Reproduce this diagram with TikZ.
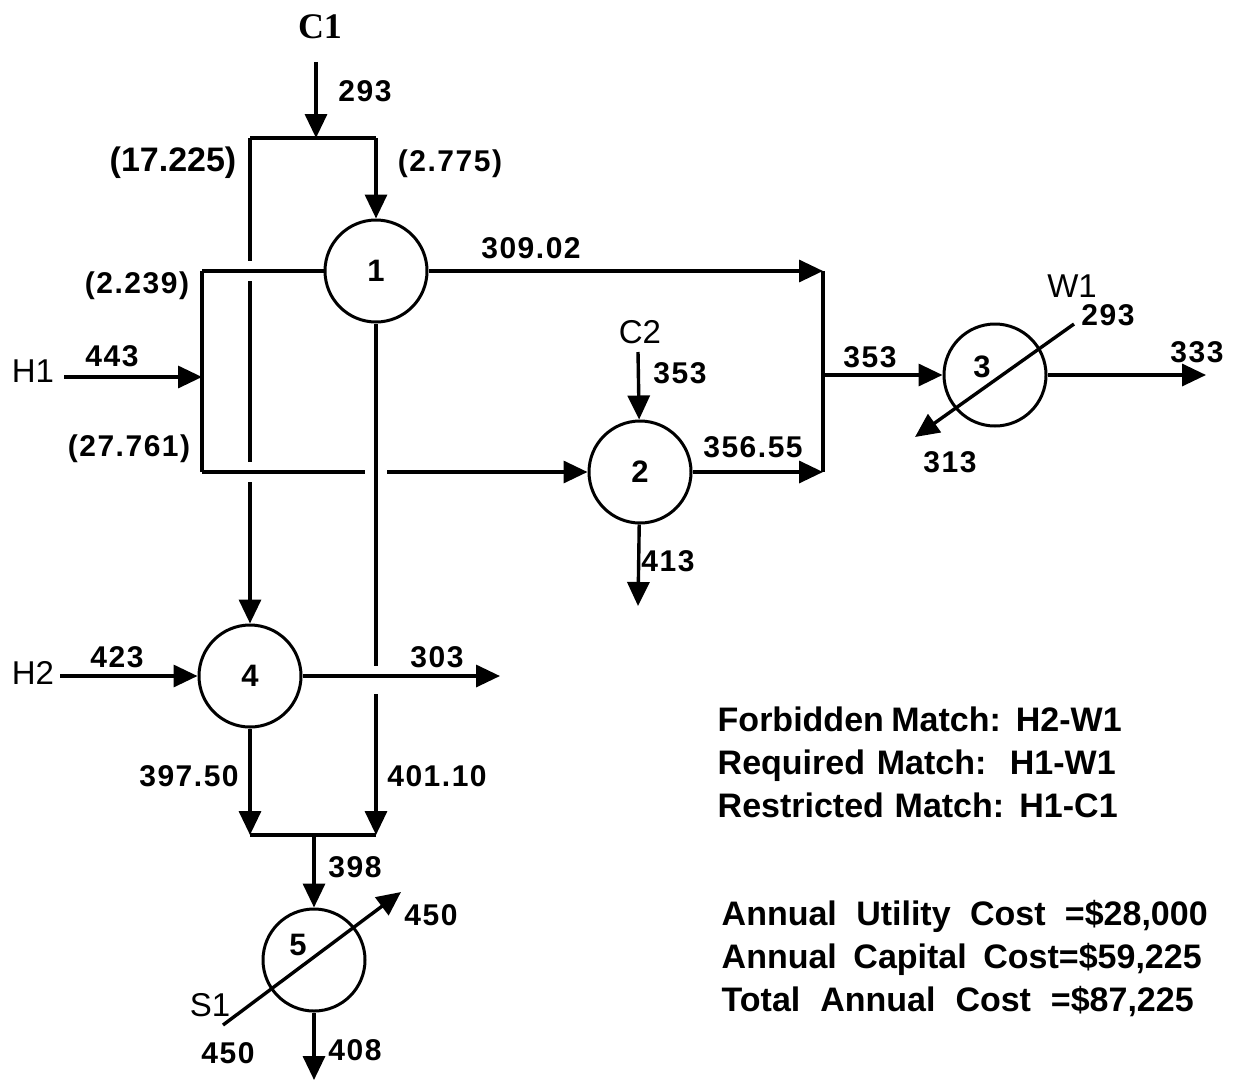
\documentclass[tikz,border=0pt]{standalone}
\usepackage{fontspec}
\setmainfont{Liberation Sans}
\newfontfamily\timesfont{Liberation Serif}
\newfontfamily\numfont{Liberation Sans}[LetterSpace=5]
\usetikzlibrary{arrows.meta, calc}

\begin{document}
\begin{tikzpicture}[x = 0.5pt, y = -0.5pt, line width = 1.7pt,
		hx/.style = {circle, draw, line width = 1.5pt, minimum size = 51pt, inner sep = 0pt,
			font = \bfseries\fontsize{15.5}{16}\selectfont},
		flow/.style = {-{Triangle[length = 12pt, width = 11pt]}},
		num/.style = {inner sep = 0pt, font = \numfont\bfseries\fontsize{15}{15}\selectfont},
		frac/.style = {inner sep = 0pt, font = \bfseries\fontsize{17}{17}\selectfont},
		strm/.style = {inner sep = 0pt, font = \fontsize{16.5}{17}\selectfont},
		spec/.style = {inner sep = 0pt, anchor = west, text height = 12pt, text depth = 3pt,
			font = \bfseries\fontsize{17}{19}\selectfont}]
	\useasboundingbox (0, 0) rectangle (1234, 1081);

	% exchangers
	\node[hx] (n1) at (376, 271){1};
	\node[hx] (n2) at (640, 472){2};
	\node[hx] (n3) at (995, 375){};
	\node[hx] (n4) at (250, 676){4};
	\node[hx] (n5) at (314, 960){};
	\node[hx, draw = none, minimum size = 0pt] (k3) at (982, 367){3};
	\node[hx, draw = none, minimum size = 0pt] (k5) at (298, 945){5};

	% split and mixing points
	\coordinate (c1in) at (316, 62);
	\coordinate (c1s) at (316, 138);
	\coordinate (c1l) at (250, 138);
	\coordinate (c1r) at (376, 138);
	\coordinate (h1in) at (64, 377);
	\coordinate (h1m) at (202, 377);
	\coordinate (h1t) at (202, 271);
	\coordinate (h1b) at (202, 472);
	\coordinate (j1) at (823, 271);
	\coordinate (j2) at (823, 472);
	\coordinate (j3) at (823, 375);
	\coordinate (h1out) at (1206, 375);
	\coordinate (c2in) at (638, 352);
	\coordinate (c2out) at (638, 606);
	\coordinate (w1in) at (1074, 324);
	\coordinate (w1out) at (915, 437);
	\coordinate (h2in) at (60, 676);
	\coordinate (h2out) at (500, 676);
	\coordinate (m1) at (250, 835);
	\coordinate (m2) at (376, 835);
	\coordinate (m3) at (314, 835);
	\coordinate (s1in) at (223, 1025);
	\coordinate (s1out) at (401, 892);
	\coordinate (c1out) at (314, 1080);
	% crossings
	\coordinate (x1) at (250, 271);
	\coordinate (x2) at (250, 472);
	\coordinate (x3) at (376, 472);
	\coordinate (x4) at (376, 676);

	% C1
	\draw[flow] (c1in) -- (c1s);
	\draw (c1l) -- (c1r);
	\draw[flow] (c1r) -- (n1);
	\draw (c1l) -- ($(x1)+(0, -10)$) ($(x1)+(0, 10)$) -- ($(x2)+(0, -10)$);
	\draw[flow] ($(x2)+(0, 10)$) -- (n4);
	\draw (n1) -- ($(x4)+(0, -10)$);
	\draw[flow] ($(x4)+(0, 18)$) -- (m2);
	\draw[flow] (n4) -- (m1);
	\draw (m1) -- (m2);
	\draw[flow] (m3) -- (n5);
	\draw[flow] (n5) -- (c1out);

	% H1
	\draw[flow] (h1in) -- (h1m);
	\draw (h1t) -- (h1b);
	\draw (h1t) -- (n1);
	\draw (h1b) -- ($(x3)+(-11, 0)$);
	\draw[flow] ($(x3)+(11, 0)$) -- (n2);
	\draw[flow] (n1) -- (j1);
	\draw[flow] (n2) -- (j2);
	\draw (j1) -- (j2);
	\draw[flow] (j3) -- (n3);
	\draw[flow] (n3) -- (h1out);

	% C2, H2, utilities
	\draw[flow] (c2in) -- (n2);
	\draw[flow] (n2) -- (c2out);
	\draw[flow] (h2in) -- (n4);
	\draw[flow] (n4) -- (h2out);
	\draw[flow] (w1in) -- (w1out);
	\draw[flow] (s1in) -- (s1out);

	% stream names
	\node[inner sep = 0pt, font = \timesfont\bfseries\fontsize{18}{18}\selectfont] (lc1) at (320, 27){C1};
	\node[strm] (lh1) at (33, 371){H1};
	\node[strm] (lh2) at (33, 673){H2};
	\node[strm] (lc2) at (640, 332){C2};
	\node[strm] (lw1) at (1072, 286){W1};
	\node[strm] (ls1) at (210, 1005){S1};

	% split fractions
	\node[frac] (f1) at (173, 163){(17.225)};
	\node[num] (f2) at (450, 164){(2.775)};
	\node[num] (f3) at (137, 286){(2.239)};
	\node[num] (f4) at (129, 449){(27.761)};

	% temperatures
	\node[num] (t1) at (365, 91){293};
	\node[num] (t2) at (112, 356){443};
	\node[num] (t3) at (531, 248){309.02};
	\node[num] (t4) at (680, 373){353};
	\node[num] (t5) at (753, 447){356.55};
	\node[num] (t6) at (668, 561){413};
	\node[num] (t7) at (870, 357){353};
	\node[num] (t8) at (1108, 315){293};
	\node[num] (t9) at (950, 462){313};
	\node[num] (t10) at (1197, 352){333};
	\node[num] (t11) at (117, 657){423};
	\node[num] (t12) at (437, 657){303};
	\node[num] (t13) at (189, 776){397.50};
	\node[num] (t14) at (437, 776){401.10};
	\node[num] (t15) at (355, 867){398};
	\node[num] (t16) at (431, 915){450};
	\node[num] (t17) at (228, 1053){450};
	\node[num] (t18) at (355, 1050){408};

	% specifications and costs
	\node[spec] (s1) at (716, 722){\makebox[202pt][s]{Forbidden Match:\ \ H2-W1}};
	\node[spec] (s2) at (716, 765){\makebox[199pt][s]{Required Match:\ \ H1-W1}};
	\node[spec] (s3) at (716, 808){\makebox[200pt][s]{Restricted Match: H1-C1}};
	\node[spec] (k1) at (720, 916){\makebox[243pt][s]{Annual Utility Cost =\$28,000}};
	\node[spec] (k2) at (720, 959){\makebox[240pt][s]{Annual Capital Cost=\$59,225}};
	\node[spec] (k3) at (720, 1002){\makebox[236pt][s]{Total Annual Cost =\$87,225}};
\end{tikzpicture}
\end{document}
